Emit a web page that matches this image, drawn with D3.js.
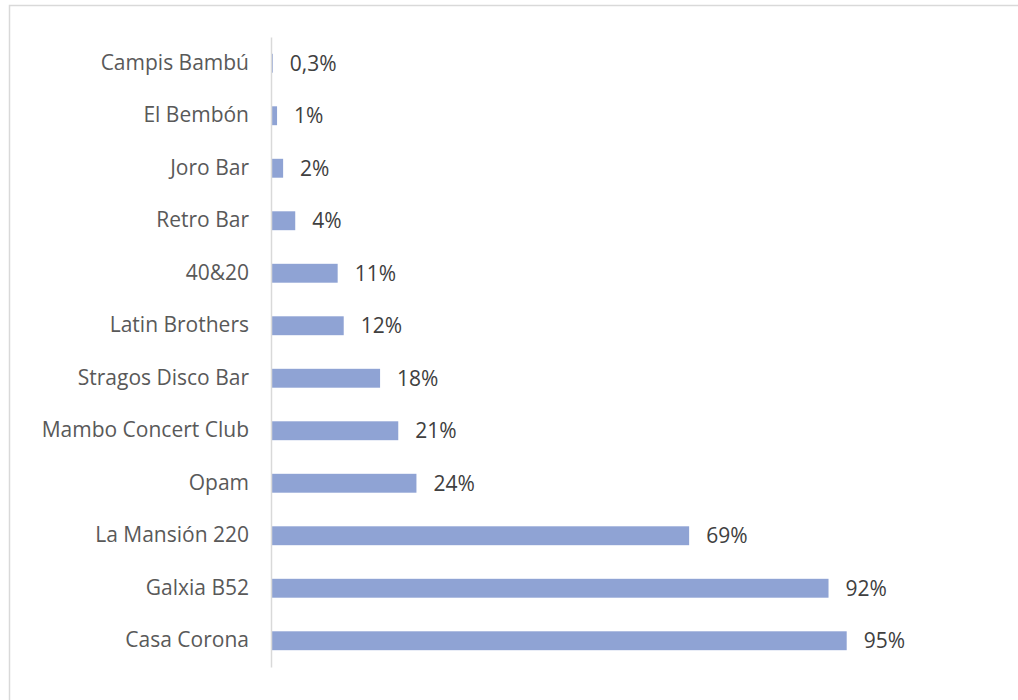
<!DOCTYPE html>
<html>
<head>
<meta charset="utf-8">
<script src="https://cdn.jsdelivr.net/npm/d3@7"></script>
<style>
  html, body { margin: 0; padding: 0; background: #fff; }
  svg { display: block; }
  text { font-family: "Open Sans", "Noto Sans", sans-serif; }
</style>
</head>
<body>
<svg id="chart" width="1018" height="700"></svg>
<script>
// venues, top to bottom as drawn
var categories = ["Campis Bambú", "El Bembón", "Joro Bar", "Retro Bar", "40&20", "Latin Brothers",
    "Stragos Disco Bar", "Mambo Concert Club", "Opam", "La Mansión 220", "Galxia B52", "Casa Corona"];
var values = [0.3, 1, 2, 4, 11, 12, 18, 21, 24, 69, 92, 95];
var valueLabels = ["0,3%", "1%", "2%", "4%", "11%", "12%", "18%", "21%", "24%", "69%", "92%", "95%"];

var svg = d3.select("#chart");

// chart frame
svg.append("rect")
    .attr("x", 9.5).attr("y", 5.5)
    .attr("width", 1030).attr("height", 720)
    .attr("fill", "none")
    .attr("stroke", "#d9d9d9")
    .attr("stroke-width", 1.5);

var x = d3.scaleLinear().domain([0, 100]).range([271, 877]);
var y = d3.scaleBand().domain(categories).range([37, 667])
    .paddingInner(0.64).paddingOuter(0.32);

svg.selectAll("rect.bar")
    .data(values)
    .enter().append("rect")
    .attr("class", "bar")
    .attr("x", x(0))
    .attr("y", function (d, i) { return y(categories[i]); })
    .attr("width", function (d) { return Math.max(x(d) - x(0), 1.5); })
    .attr("height", y.bandwidth())
    .attr("fill", "#8fa3d4");

var yAxis = svg.append("g")
    .attr("transform", "translate(" + x(0) + ",0)")
    .call(d3.axisLeft(y).tickSize(0).tickPadding(22));
yAxis.select(".domain").attr("stroke", "#d9d9d9").attr("stroke-width", 1.5);
yAxis.selectAll("text")
    .attr("fill", "#595959")
    .style("font-size", "21px")
    .style("font-family", "\"Open Sans\", sans-serif");

svg.selectAll("text.val")
    .data(values)
    .enter().append("text")
    .attr("class", "val")
    .attr("x", function (d) { return x(d) + 17; })
    .attr("y", function (d, i) { return y(categories[i]) + y.bandwidth() / 2; })
    .attr("dy", "0.35em")
    .attr("fill", "#404040")
    .style("font-size", "21px")
    .text(function (d, i) { return valueLabels[i]; });
</script>
</body>
</html>
